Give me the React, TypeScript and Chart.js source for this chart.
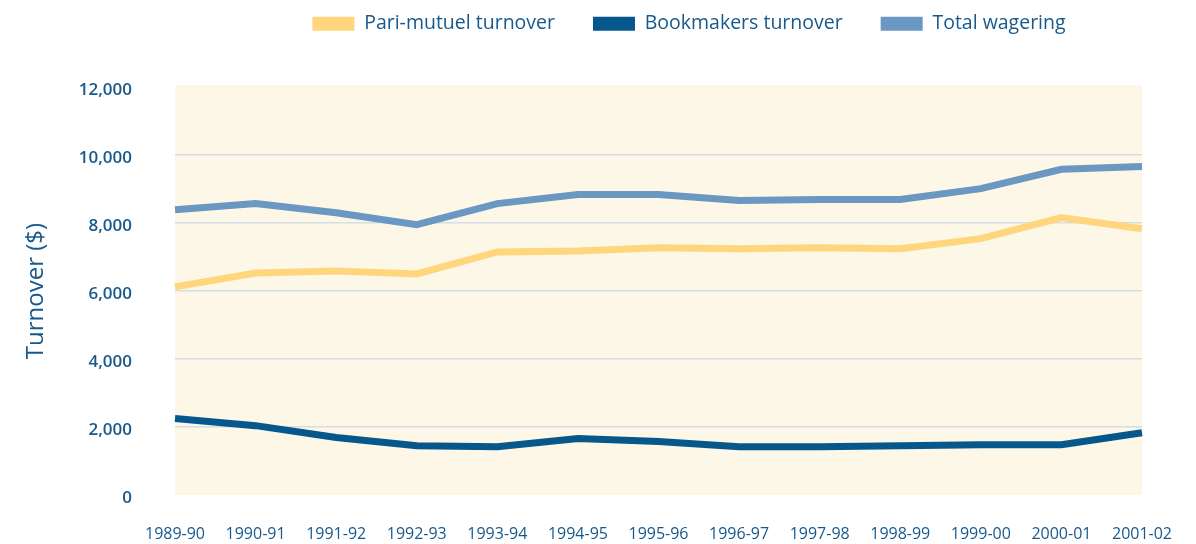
import React, { useEffect, useRef } from "react";
import { Chart, registerables } from "chart.js";

Chart.register(...registerables);

const categories = ["1989-90", "1990-91", "1991-92", "1992-93", "1993-94", "1994-95", "1995-96", "1996-97", "1997-98", "1998-99", "1999-00", "2000-01", "2001-02"];
const pariMutuel = [6120, 6530, 6590, 6500, 7150, 7180, 7270, 7240, 7270, 7240, 7540, 8160, 7830];
const bookmakers = [2250, 2040, 1690, 1450, 1420, 1660, 1570, 1420, 1420, 1450, 1480, 1480, 1830];
const totalWagering = [8390, 8570, 8300, 7950, 8570, 8840, 8840, 8660, 8690, 8690, 9010, 9580, 9660];
const yTicks = [0, 2000, 4000, 6000, 8000, 10000, 12000];

const TEXT = "#17598c";
const FONT = "'Open Sans', sans-serif";

const bgPlugin = {
  id: "plotBg",
  beforeLayout(chart: any) {
    const lg = chart.legend;
    if (lg && !lg.__patched) {
      lg.__patched = true;
      const origFit = lg.fit;
      lg.fit = function () {
        origFit.call(this);
        this.height = 111;
      };
      const origDraw = lg.draw;
      lg.draw = function (...args: any[]) {
        const ctx = this.ctx;
        ctx.save();
        ctx.translate(118, 0);
        origDraw.apply(this, args);
        ctx.restore();
      };
    }
  },
  beforeDraw(chart: any) {
    const { ctx, chartArea } = chart;
    ctx.save();
    ctx.fillStyle = "#fdf7e8";
    ctx.fillRect(chartArea.left, chartArea.top - 2, chartArea.right - chartArea.left, chartArea.bottom - chartArea.top + 2);
    ctx.restore();
  },
};

export default function App() {
  const ref = useRef<HTMLCanvasElement>(null);
  useEffect(() => {
    const chart = new Chart(ref.current!, {
      type: "line",
      data: {
        labels: categories,
        datasets: [
          { label: "Pari-mutuel turnover", data: pariMutuel, borderColor: "#ffd67d", backgroundColor: "#ffd67d", borderWidth: 7, pointRadius: 0, tension: 0 },
          { label: "Bookmakers turnover", data: bookmakers, borderColor: "#06578c", backgroundColor: "#06578c", borderWidth: 7, pointRadius: 0, tension: 0 },
          { label: "Total wagering", data: totalWagering, borderColor: "#6b97c3", backgroundColor: "#6b97c3", borderWidth: 7, pointRadius: 0, tension: 0 },
        ],
      },
      options: {
        animation: false,
        responsive: false,
        maintainAspectRatio: false,
        layout: { padding: { left: 0, right: 54, top: -24, bottom: 0 } },
        plugins: {
          legend: {
            position: "top",
            labels: {
              boxWidth: 42,
              boxHeight: 14,
              padding: 38,
              color: TEXT,
              font: { family: FONT, size: 19.5 },
              generateLabels: (c: any) =>
                (Chart as any).defaults.plugins.legend.labels.generateLabels(c).map((l: any) => ({ ...l, lineWidth: 0 })),
            },
          },
          tooltip: { enabled: false },
        },
        scales: {
          x: {
            offset: false,
            grid: { display: false, drawTicks: false },
            border: { display: false },
            ticks: { color: TEXT, font: { family: FONT, size: 16 }, padding: 30, maxRotation: 0, autoSkip: false },
            afterFit(scale: any) {
              scale.height = 49;
              scale.paddingLeft = 0;
              scale.paddingRight = 0;
            },
          },
          y: {
            min: 0,
            max: 12000,
            afterBuildTicks(scale: any) { scale.ticks = yTicks.map((v) => ({ value: v })); },
            grid: {
              color: (c: any) => (c.tick && (c.tick.value === 0 || c.tick.value === 12000) ? "rgba(0,0,0,0)" : "#d3dee7"),
              lineWidth: 1.5,
              drawTicks: false,
            },
            border: { display: false },
            ticks: {
              color: TEXT,
              font: { family: FONT, size: 17, weight: "600" },
              padding: 43,
              labelOffset: 3,
              callback: (v: any) => Number(v).toLocaleString("en-US"),
            },
            title: { display: true, text: "Turnover ($)", color: TEXT, font: { family: FONT, size: 24 }, padding: { top: 22, bottom: 0 } },
            afterFit(scale: any) {
              scale.width = 175;
              scale.paddingTop = 0;
              scale.paddingBottom = 0;
            },
          },
        },
      },
      plugins: [bgPlugin],
    } as any);
    return () => chart.destroy();
  }, []);
  return (
    <div style={{ position: "fixed", left: 0, top: 0, width: 1196, height: 544, background: "#fff" }}>
      <canvas ref={ref} width={1196} height={544} style={{ width: 1196, height: 544 }} />
    </div>
  );
}
